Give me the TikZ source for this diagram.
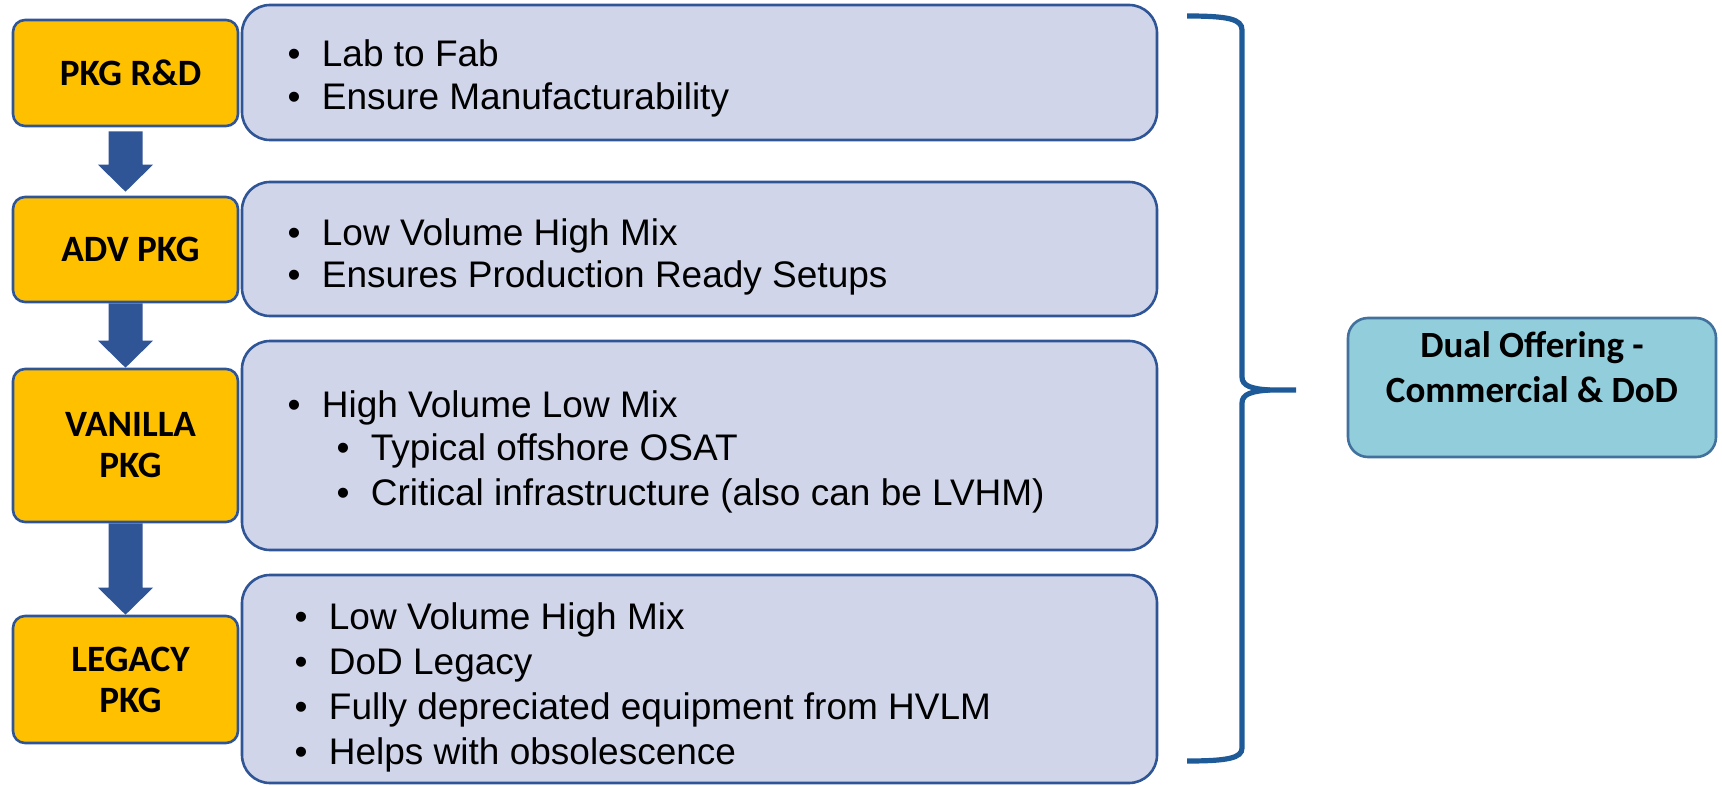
\documentclass[tikz,border=0pt]{standalone}
\usepackage{fontspec}
\setmainfont{Liberation Sans}
\newfontfamily\calib{Carlito}
\usetikzlibrary{calc}
\definecolor{gold}{HTML}{FFC000}
\definecolor{navy}{HTML}{2F5597}
\definecolor{lav}{HTML}{D0D5E9}
\definecolor{bracec}{HTML}{1F5A98}
\definecolor{sky}{HTML}{92CDDC}
\definecolor{skyb}{HTML}{41719C}
\tikzset{
  obox/.style={draw=navy, fill=gold, line width=1.3pt, rounded corners=6pt, inner sep=0pt},
  otxt/.style={inner sep=0pt, align=center, font=\calib\bfseries\fontsize{18.6}{20.5}\selectfont},
  bbox/.style={draw=navy, fill=lav, line width=1.3pt, rounded corners=14pt, inner sep=0pt},
  dbox/.style={draw=skyb, fill=sky, line width=1.3pt, rounded corners=10pt, inner sep=0pt},
  dtxt/.style={inner sep=0pt, align=center, font=\calib\bfseries\fontsize{18.5}{22.5}\selectfont},
  bul/.style={inner sep=0pt, anchor=base, font=\fontsize{18.5}{22}\selectfont},
  btxt/.style={inner sep=0pt, anchor=base west, font=\fontsize{18.5}{22}\selectfont},
  flowfill/.style={fill=navy},
  bracepen/.style={draw=bracec, line width=2.6pt}
}
% from node, to node, top gap, bottom gap (px)
\newcommand\flowarr[4]{%
  \fill[flowfill] ($(#1.south)+(-17,#3)$) -- ($(#1.south)+(17,#3)$)
    -- ($(#2.north)+(17,-27-#4)$) -- ($(#2.north)+(27.5,-27-#4)$)
    -- ($(#2.north)+(0,-#4)$)
    -- ($(#2.north)+(-27.5,-27-#4)$) -- ($(#2.north)+(-17,-27-#4)$) -- cycle;}
% name, bullet x, text x, baseline y, text
\newcommand\bline[5]{%
  \node[bul] (#1b) at (#2,#4) {•};
  \node[btxt] (#1t) at (#3,#4) {#5};}
\begin{document}
\begin{tikzpicture}[x=0.5pt,y=-0.5pt]
\useasboundingbox (0,0) rectangle (1722,786);

% left orange boxes
\node[obox, minimum width=112.5pt, minimum height=53pt]   (o1) at (125.5,73)    {};
\node[obox, minimum width=112.5pt, minimum height=52.5pt] (o2) at (125.5,249.5) {};
\node[obox, minimum width=112.5pt, minimum height=76.5pt] (o3) at (125.5,445.5) {};
\node[obox, minimum width=112.5pt, minimum height=63.5pt] (o4) at (125.5,679.5) {};
\node[otxt] (o1t) at ($(o1.center)+(5,0)$) {PKG R\&D};
\node[otxt] (o2t) at ($(o2.center)+(5,0)$) {ADV PKG};
\node[otxt] (o3t) at ($(o3.center)+(5,0)$) {VANILLA\\PKG};
\node[otxt] (o4t) at ($(o4.center)+(5,0)$) {LEGACY\\PKG};

% arrows
\flowarr{o1}{o2}{4}{4}
\flowarr{o2}{o3}{0}{0}
\flowarr{o3}{o4}{0}{0}

% blue boxes
\node[bbox, minimum width=457.5pt, minimum height=67.5pt] (b1) at (699.5,72.5) {};
\node[bbox, minimum width=457.5pt, minimum height=67pt]   (b2) at (699.5,249) {};
\node[bbox, minimum width=457.5pt, minimum height=104.5pt] (b3) at (699.5,445.5) {};
\node[bbox, minimum width=457.5pt, minimum height=104pt]  (b4) at (699.5,679) {};

\bline{l11}{294}{321.5}{67}{Lab to Fab}
\bline{l12}{294}{321.5}{110}{Ensure Manufacturability}
\bline{l21}{294}{321.5}{245}{Low Volume High Mix}
\bline{l22}{294}{321.5}{287}{Ensures Production Ready Setups}
\bline{l31}{294}{321.5}{417}{High Volume Low Mix}
\bline{l32}{343}{370.5}{460}{Typical offshore OSAT}
\bline{l33}{343}{370.5}{505}{Critical infrastructure (also can be LVHM)}
\bline{l41}{301}{328.5}{629}{Low Volume High Mix}
\bline{l42}{301}{328.5}{674}{DoD Legacy}
\bline{l43}{301}{328.5}{719}{Fully depreciated equipment from HVLM}
\bline{l44}{301}{328.5}{764}{Helps with obsolescence}

% brace
\draw[bracepen] (1187,16) .. controls (1228,16) and (1242,19) .. (1242,30)
  -- (1242,377) .. controls (1242,386) and (1252,389) .. (1270,390) -- (1296,390);
\draw[bracepen] (1270,390) .. controls (1252,391) and (1242,394) .. (1242,403)
  -- (1242,748) .. controls (1242,758) and (1228,761) .. (1187,761);

% dual offering
\node[dbox, minimum width=184pt, minimum height=69.5pt] (d) at (1532,387.5) {};
\node[dtxt] (dt) at ($(d.center)+(0,-20)$) {Dual Offering -\\Commercial \& DoD};
\end{tikzpicture}
\end{document}
